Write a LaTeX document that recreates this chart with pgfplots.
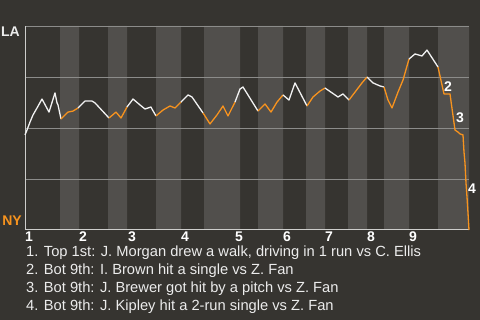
\documentclass[border=0pt]{standalone}
\usepackage{fontspec}
\setmainfont{Liberation Sans}
\usepackage{pgfplots}
\pgfplotsset{compat=1.18}
\definecolor{bg}{RGB}{54,52,48}
\definecolor{stripe}{RGB}{81,79,76}
\definecolor{gridc}{RGB}{140,140,138}
\definecolor{axc}{RGB}{205,205,203}
\definecolor{wpl}{RGB}{242,242,242}
\definecolor{opl}{RGB}{247,147,30}
\definecolor{txt}{RGB}{236,236,236}
\begin{document}
\begin{tikzpicture}
\fill[bg] (0,0) rectangle (480pt,320pt);
\begin{axis}[
  at={(25pt,90pt)}, anchor=south west,
  scale only axis, width=444pt, height=204pt,
  xmin=0, xmax=444, ymin=0, ymax=100,
  axis line style={draw=none},
  major tick length=0pt,
  ytick=\empty,
  xtick={4,58,107,160,214,262,304,346,388},
  xticklabels={1,2,3,4,5,6,7,8,9},
  xticklabel style={font=\fontsize{14}{14}\selectfont\bfseries, text=white, inner sep=0pt, anchor=north, yshift=-2pt},
  clip=false,
]
% half-inning stripes (bottom halves)
\addplot[fill=stripe, draw=none, const plot] coordinates {(0,0)(35,100)(54,0)(83,100)(102,0)(131,100)(156,0)(179,100)(215,0)(233,100)(258,0)(281,100)(300,0)(323,100)(342,0)(359,100)(384,0)(413,100)(444,100)} \closedcycle;
% grid lines
\addplot[gridc, line width=0.8pt] coordinates {(0,25)(444,25)};
\addplot[gridc, line width=0.8pt] coordinates {(0,50)(444,50)};
\addplot[gridc, line width=0.8pt] coordinates {(0,75)(444,75)};
\addplot[gridc, line width=0.8pt] coordinates {(0,100)(444,100)};
\addplot[axc, line width=1pt] coordinates {(0,0)(0,100)};
\addplot[axc, line width=1pt] coordinates {(0,0)(444,0)};
% win probability (LA), white = top half, orange = bottom half
\addplot[wpl, line width=1.3pt, line join=round] coordinates {(0,46.6)(2,49.0)(5,52.9)(8,56.4)(12,59.8)(17,64.2)(24,57.8)(30,67.2)(32,62.3)(33,61.3)(36,54.4)};
\addplot[opl, line width=1.3pt, line join=round] coordinates {(36,54.4)(43,57.8)(48,58.3)(53,59.8)};
\addplot[wpl, line width=1.3pt, line join=round] coordinates {(53,59.8)(60,63.2)(67,63.2)(70,62.3)(84,54.9)};
\addplot[opl, line width=1.3pt, line join=round] coordinates {(84,54.9)(91,57.8)(96,54.9)(102,60.3)};
\addplot[wpl, line width=1.3pt, line join=round] coordinates {(102,60.3)(108,64.2)(115,61.3)(120,59.3)(126,60.3)(127,59.3)(131,55.9)};
\addplot[opl, line width=1.3pt, line join=round] coordinates {(131,55.9)(138,58.8)(145,60.8)(150,59.8)(156,62.7)};
\addplot[wpl, line width=1.3pt, line join=round] coordinates {(156,62.7)(163,66.2)(167,65.2)(178,57.4)};
\addplot[opl, line width=1.3pt, line join=round] coordinates {(178,57.4)(185,52.0)(192,56.4)(198,60.8)(203,55.9)(210,62.7)};
\addplot[wpl, line width=1.3pt, line join=round] coordinates {(210,62.7)(215,69.1)(218,70.1)(233,58.3)};
\addplot[opl, line width=1.3pt, line join=round] coordinates {(233,58.3)(240,61.8)(246,57.8)(252,62.7)(258,66.2)};
\addplot[wpl, line width=1.3pt, line join=round] coordinates {(258,66.2)(264,63.7)(270,72.1)(282,60.8)};
\addplot[opl, line width=1.3pt, line join=round] coordinates {(282,60.8)(288,65.2)(295,68.1)(300,69.6)};
\addplot[wpl, line width=1.3pt, line join=round] coordinates {(300,69.6)(313,65.2)(318,66.7)(324,63.7)};
\addplot[opl, line width=1.3pt, line join=round] coordinates {(324,63.7)(330,67.6)(337,72.1)(342,75.0)};
\addplot[wpl, line width=1.3pt, line join=round] coordinates {(342,75.0)(348,72.1)(355,70.6)(359,70.1)};
\addplot[opl, line width=1.3pt, line join=round] coordinates {(359,70.1)(363,63.7)(367,59.8)(373,67.6)(378,73.5)(384,83.8)};
\addplot[wpl, line width=1.3pt, line join=round] coordinates {(384,83.8)(390,86.3)(397,85.3)(402,88.2)(413,79.9)};
\addplot[opl, line width=1.3pt, line join=round] coordinates {(413,79.9)(419,66.7)(425,66.7)(430,49.0)(433,48.0)(435,47.1)(438,46.6)(439,38.2)(440,32.8)(441,23.0)(442,16.2)(443,8.3)(444,0)};
% event labels
\node[font=\fontsize{14}{14}\selectfont\bfseries, text=white, inner sep=0pt] at (axis cs:423,70.1) {2};
\node[font=\fontsize{14}{14}\selectfont\bfseries, text=white, inner sep=0pt] at (axis cs:435,54.9) {3};
\node[font=\fontsize{14}{14}\selectfont\bfseries, text=white, inner sep=0pt] at (axis cs:447,20.1) {4};
% team labels
\node[anchor=north east, inner sep=0pt, xshift=-5pt, yshift=-1pt, font=\fontsize{14}{14}\selectfont\bfseries, text=txt] at (rel axis cs:0,1) {LA};
\node[anchor=south east, inner sep=0pt, xshift=-3pt, yshift=4pt, font=\fontsize{14}{14}\selectfont\bfseries, text=opl] at (rel axis cs:0,0) {NY};
% event descriptions
\node[anchor=base west, inner sep=0pt, xshift=1pt, yshift=-27pt, font=\fontsize{14.7}{14.7}\selectfont, text=txt] at (rel axis cs:0,0) {1. Top 1st: J. Morgan drew a walk, driving in 1 run vs C. Ellis};
\node[anchor=base west, inner sep=0pt, xshift=1pt, yshift=-45pt, font=\fontsize{14.7}{14.7}\selectfont, text=txt] at (rel axis cs:0,0) {2. Bot 9th: I. Brown hit a single vs Z. Fan};
\node[anchor=base west, inner sep=0pt, xshift=1pt, yshift=-63pt, font=\fontsize{14.7}{14.7}\selectfont, text=txt] at (rel axis cs:0,0) {3. Bot 9th: J. Brewer got hit by a pitch vs Z. Fan};
\node[anchor=base west, inner sep=0pt, xshift=1pt, yshift=-81pt, font=\fontsize{14.7}{14.7}\selectfont, text=txt] at (rel axis cs:0,0) {4. Bot 9th: J. Kipley hit a 2-run single vs Z. Fan};
\end{axis}
\pgfresetboundingbox
\useasboundingbox (0,0) rectangle (480pt,320pt);
\end{tikzpicture}
\end{document}
